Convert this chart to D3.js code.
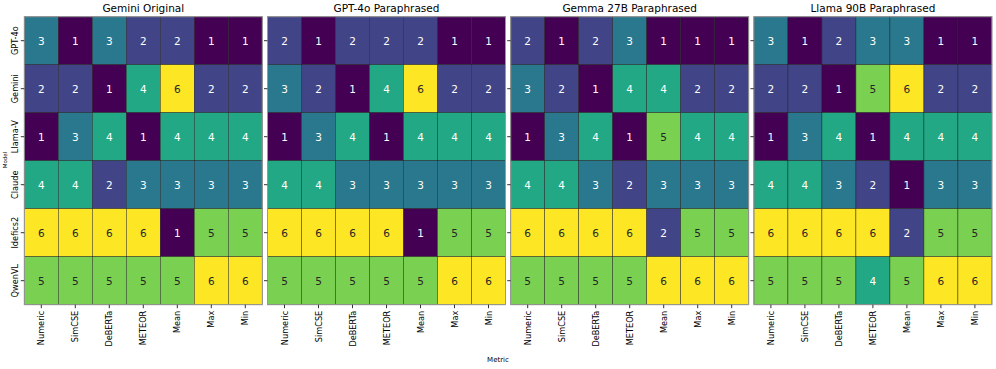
<!DOCTYPE html>
<html><head><meta charset="utf-8">
<script src="https://cdn.jsdelivr.net/npm/d3@7"></script>
<style>body{margin:0;background:#fff}svg{display:block}text{font-family:"DejaVu Sans",sans-serif}</style>
</head><body><svg id="c" width="996" height="369"></svg>
<script>
const models = ["GPT-4o","Gemini","Llama-V","Claude","Idefics2","QwenVL"];
const metrics = ["Numeric","SimCSE","DeBERTa","METEOR","Mean","Max","Min"];
const panelTitles = ["Gemini Original","GPT-4o Paraphrased","Gemma 27B Paraphrased","Llama 90B Paraphrased"];
const geminiOriginal = [[3,1,3,2,2,1,1],[2,2,1,4,6,2,2],[1,3,4,1,4,4,4],[4,4,2,3,3,3,3],[6,6,6,6,1,5,5],[5,5,5,5,5,6,6]];
const gpt4oParaphrased = [[2,1,2,2,2,1,1],[3,2,1,4,6,2,2],[1,3,4,1,4,4,4],[4,4,3,3,3,3,3],[6,6,6,6,1,5,5],[5,5,5,5,5,6,6]];
const gemmaParaphrased = [[2,1,2,3,1,1,1],[3,2,1,4,4,2,2],[1,3,4,1,5,4,4],[4,4,3,2,3,3,3],[6,6,6,6,2,5,5],[5,5,5,5,6,6,6]];
const llamaParaphrased = [[3,1,2,3,3,1,1],[2,2,1,5,6,2,2],[1,3,4,1,4,4,4],[4,4,3,2,1,3,3],[6,6,6,6,2,5,5],[5,5,5,4,5,6,6]];
const panelData = [geminiOriginal, gpt4oParaphrased, gemmaParaphrased, llamaParaphrased];

const svg = d3.select("#c");
const color = d3.scaleSequential(d3.interpolateViridis).domain([1,6]);
const topY = 16.7, H = 288, W = 238, x0 = 24.3, step = 243.2;

panelData.forEach((data, p) => {
  const left = x0 + p*step;
  const g = svg.append("g").attr("transform", `translate(${left},${topY})`);
  const x = d3.scaleBand().domain(metrics).range([0, W]);
  const y = d3.scaleBand().domain(models).range([0, H]);
  const cells = [];
  data.forEach((row, i) => row.forEach((v, j) => cells.push({m: models[i], k: metrics[j], v})));
  g.selectAll("rect.cell").data(cells).join("rect").attr("class","cell")
    .attr("x", d => x(d.k)).attr("y", d => y(d.m))
    .attr("width", x.bandwidth()).attr("height", y.bandwidth())
    .attr("fill", d => color(d.v)).attr("stroke", "rgba(30,30,30,0.75)").attr("stroke-width", 0.6);
  g.selectAll("text.val").data(cells).join("text").attr("class","val")
    .attr("x", d => x(d.k) + x.bandwidth()/2).attr("y", d => y(d.m) + y.bandwidth()/2)
    .attr("text-anchor","middle").attr("dominant-baseline","central")
    .attr("font-size", 10.5)
    .attr("fill", d => d.v >= 5 ? "#262626" : "#ffffff")
    .text(d => d.v);
  g.append("rect").attr("x",0).attr("y",0).attr("width",W).attr("height",H)
    .attr("fill","none").attr("stroke","#999").attr("stroke-width",1);
  // x axis
  const xa = g.append("g").attr("transform", `translate(0,${H})`)
    .call(d3.axisBottom(x).tickSize(3.5).tickPadding(2.5));
  xa.select(".domain").remove();
  xa.selectAll("line").attr("stroke","#333");
  xa.selectAll("text").attr("font-size", 8.2).attr("fill","#000")
    .attr("x", 0).attr("y", 0).attr("dy", 0)
    .attr("transform", "translate(0,6) rotate(-90)")
    .attr("text-anchor","end")
    .attr("dominant-baseline","central");
  // y axis
  const ya = g.append("g").call(d3.axisLeft(y).tickSize(3.5));
  ya.select(".domain").remove();
  ya.selectAll("line").attr("stroke","#333");
  if (p === 0) {
    ya.selectAll("text").attr("font-size", 8.2).attr("fill","#000")
      .attr("x", 0).attr("dy", 0)
      .attr("transform", "translate(-6,0) rotate(-90)")
      .attr("text-anchor","middle").attr("dominant-baseline","auto");
  } else {
    ya.selectAll("text").remove();
  }
  svg.append("text").attr("x", left + W/2).attr("y", 11.8)
    .attr("text-anchor","middle").attr("font-size", 10.5).attr("fill","#000")
    .text(panelTitles[p]);
});

svg.append("text").attr("transform","translate(7,160) rotate(-90)")
  .attr("text-anchor","middle").attr("font-size",5.5).text("Model");
svg.append("text").attr("x",498).attr("y",361.5)
  .attr("text-anchor","middle").attr("font-size",7).text("Metric");
</script></body></html>
